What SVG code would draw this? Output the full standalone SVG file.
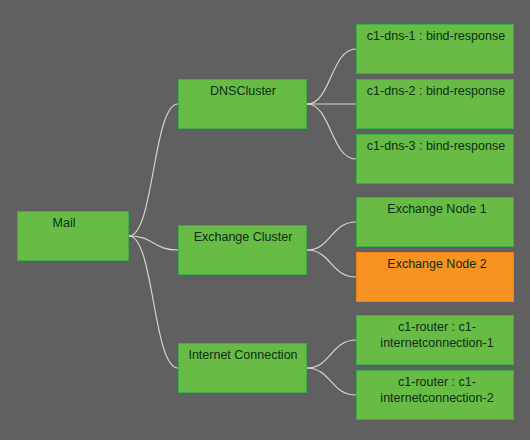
<svg xmlns="http://www.w3.org/2000/svg" width="530" height="440" viewBox="0 0 530 440">
<style>
.n{fill:#68bc45;stroke:#3cae48;stroke-width:1}
.o{fill:#f69322;stroke:#e8861c;stroke-width:1}
.t{font-family:"Liberation Sans",Arial,sans-serif;font-size:12.5px;fill:#0e2e16;text-anchor:middle}
.c{fill:none;stroke:#d9d6c6;stroke-width:1.2}
</style>
<rect width="530" height="440" fill="#606060"/>
<g id="connectors">
<path class="c" d="M129 236 C154 236,153 104,178 104"/>
<path class="c" d="M129 236 C154 236,153 250,178 250"/>
<path class="c" d="M129 236 C154 236,153 368,178 368"/>
<path class="c" d="M307 104 C331 104,331 49,356 49"/>
<path class="c" d="M307 104 L356 104"/>
<path class="c" d="M307 104 C331 104,331 159,356 159"/>
<path class="c" d="M307 250 C331 250,331 222,356 222"/>
<path class="c" d="M307 250 C331 250,331 277,356 277"/>
<path class="c" d="M307 368 C331 368,331 340,356 340"/>
<path class="c" d="M307 368 C331 368,331 395,356 395"/>
</g>
<g id="mail"><rect class="n" x="17.5" y="211.5" width="111" height="49"/><text class="t" x="64" y="227">Mail</text></g>
<g id="dnscluster"><rect class="n" x="178.5" y="79.5" width="128" height="49"/><text class="t" x="243" y="95">DNSCluster</text></g>
<g id="exchangecluster"><rect class="n" x="178.5" y="225.5" width="128" height="49"/><text class="t" x="243" y="241">Exchange Cluster</text></g>
<g id="internetconnection"><rect class="n" x="178.5" y="343.5" width="128" height="49"/><text class="t" x="243" y="359">Internet Connection</text></g>
<g id="dns1"><rect class="n" x="356.5" y="24.5" width="157" height="49"/><text class="t" x="436" y="40">c1-dns-1 : bind-response</text></g>
<g id="dns2"><rect class="n" x="356.5" y="79.5" width="157" height="49"/><text class="t" x="436" y="95">c1-dns-2 : bind-response</text></g>
<g id="dns3"><rect class="n" x="356.5" y="134.5" width="157" height="49"/><text class="t" x="436" y="150">c1-dns-3 : bind-response</text></g>
<g id="exnode1"><rect class="n" x="356.5" y="197.5" width="157" height="49"/><text class="t" x="437" y="213">Exchange Node 1</text></g>
<g id="exnode2"><rect class="o" x="356.5" y="252.5" width="157" height="49"/><text class="t" x="437" y="268">Exchange Node 2</text></g>
<g id="router1"><rect class="n" x="356.5" y="315.5" width="157" height="49"/><text class="t" x="437" y="331">c1-router : c1-</text><text class="t" x="437" y="347">internetconnection-1</text></g>
<g id="router2"><rect class="n" x="356.5" y="370.5" width="157" height="49"/><text class="t" x="437" y="386">c1-router : c1-</text><text class="t" x="437" y="402">internetconnection-2</text></g>
</svg>
